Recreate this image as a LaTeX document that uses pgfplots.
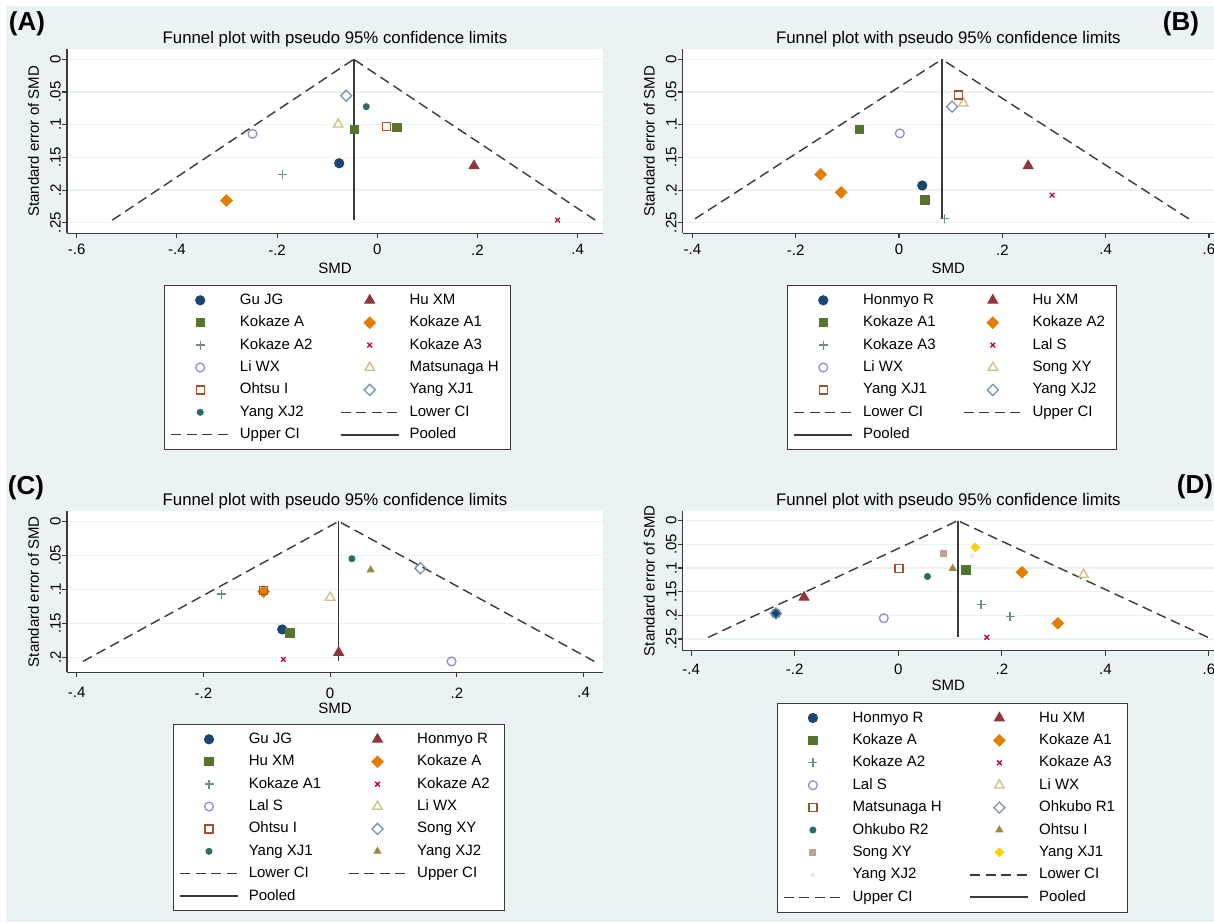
\documentclass[border=0pt]{standalone}
\usepackage{fontspec}
\setmainfont{Liberation Sans}
\usepackage{pgfplots}
\pgfplotsset{compat=1.18}

% Stata s2color palette
\definecolor{s1}{HTML}{1A476F}
\definecolor{s2}{HTML}{90353B}
\definecolor{s3}{HTML}{55752F}
\definecolor{s4}{HTML}{E37E00}
\definecolor{s5}{HTML}{6E8E84}
\definecolor{s6}{HTML}{C10534}
\definecolor{s7}{HTML}{938DD2}
\definecolor{s8}{HTML}{CAC27E}
\definecolor{s9}{HTML}{A0522D}
\definecolor{s10}{HTML}{7B92A8}
\definecolor{s11}{HTML}{2D6D66}
\definecolor{s12}{HTML}{9C8847}
\definecolor{s13}{HTML}{BFA19C}
\definecolor{s14}{HTML}{FFD200}
\definecolor{s15}{HTML}{D9E6EB}
\definecolor{sbg}{HTML}{EAF2F3}
\definecolor{saxis}{HTML}{3A3A3A}

\newlength\wa \newlength\wb
\newcommand\La[1]{\makebox[\wa][l]{#1}}
\newcommand\Lb[1]{\makebox[\wb][l]{#1}}

\pgfplotsset{
  p1/.style={only marks, color=s1, mark=*, mark size=4.6pt, mark options={line width=1pt}},
  p2/.style={only marks, color=s2, mark=triangle*, mark size=5.6pt, mark options={line width=1pt}},
  p3/.style={only marks, color=s3, mark=square*, mark size=4.2pt, mark options={line width=1pt}},
  p4/.style={only marks, color=s4, mark=square*, mark size=4pt, mark options={rotate=45, line width=1pt}},
  p5/.style={only marks, color=s5, mark=+, mark size=4.5pt, mark options={line width=1.3pt}},
  p6/.style={only marks, color=s6, mark=x, mark size=3.3pt, mark options={line width=1.3pt}},
  p7/.style={only marks, color=s7, mark=o, mark size=4.4pt, mark options={line width=1.3pt}},
  p8/.style={only marks, color=s8, mark=triangle, mark size=5.4pt, mark options={line width=1.3pt}},
  p9/.style={only marks, color=s9, mark=square, mark size=4pt, mark options={line width=1.3pt}},
  p10/.style={only marks, color=s10, mark=square, mark size=3.9pt, mark options={rotate=45, line width=1.3pt}},
  p11/.style={only marks, color=s11, mark=*, mark size=3pt, mark options={line width=1pt}},
  p12/.style={only marks, color=s12, mark=triangle*, mark size=3.8pt, mark options={line width=1pt}},
  p13/.style={only marks, color=s13, mark=square*, mark size=2.9pt, mark options={line width=1pt}},
  p14/.style={only marks, color=s14, mark=square*, mark size=2.9pt, mark options={rotate=45, line width=1pt}},
  p15/.style={only marks, color=s15, mark=x, mark size=2.6pt, mark options={line width=1.2pt}},
  ci/.style={color=saxis, line width=1.4pt, dash pattern=on 10pt off 5.5pt, no marks},
  pool/.style={color=saxis, line width=1.6pt, solid, no marks},
  funnel/.style={
    scale only axis, anchor=south west, y dir=reverse,
    axis x line*=bottom, axis y line*=left,
    axis line style={draw=saxis, line width=1.1pt},
    every tick/.style={draw=saxis, line width=1.1pt},
    tick align=outside, major tick length=5pt,
    ymajorgrids, major grid style={draw=sbg, line width=1.3pt},
    axis background/.style={fill=white},
    font=\fontsize{15}{18}\selectfont,
    title={Funnel plot with pseudo 95\% confidence limits},
    title style={font=\fontsize{16.8}{20}\selectfont, at={(axis description cs:0.5,1)}, anchor=base, inner sep=0pt, yshift=-0.5pt},
    xlabel={SMD}, ylabel={Standard error of SMD},
    xticklabel style={inner sep=0pt, anchor=center},
    yticklabel style={rotate=90, anchor=south, inner xsep=0pt, inner ysep=1pt},
    legend columns=2,
    legend style={draw=saxis, line width=1pt, fill=white, inner xsep=6pt, inner ysep=7.8pt,
      row sep=8.4pt, column sep=0pt, anchor=north west, font=\fontsize{15}{18}\selectfont,
      nodes={inner sep=0pt, text height=11pt, text depth=3pt}},
    legend image code/.code={\path (0pt,-5pt) (68pt,5pt);
      \draw[mark indices={2},##1] plot coordinates {(0pt,0pt) (29pt,0pt) (58pt,0pt)};},
  },
}

\begin{document}
\begin{tikzpicture}
\path[use as bounding box] (0pt,0pt) rectangle (1214pt,922pt);
\clip (0pt,0pt) rectangle (1214pt,922pt);
\fill[white] (0pt,0pt) rectangle (1214pt,922pt);
\fill[sbg] (6pt,0pt) rectangle (1214pt,916pt);

% ---------- (A)
\setlength\wa{100pt}\setlength\wb{95pt}
\begin{axis}[funnel, at={(67pt,688.67pt)}, width=536pt, height=184pt,
  xmin=-0.6192, xmax=0.4505, ymin=-0.0153, ymax=0.2662,
  xtick={-0.6,-0.4,-0.2,0,0.2,0.4}, xticklabels={-.6,-.4,-.2,0,.2,.4},
  ytick={0,0.05,0.1,0.15,0.2,0.25}, yticklabels={0,.05,.1,.15,.2,.25},
  xticklabel style={yshift=-11.5pt},
  xlabel style={at={(axis description cs:0.5,0)}, anchor=center, inner sep=0pt, yshift=-35pt},
  ylabel style={at={(axis description cs:-0.0625,0.5)}, anchor=center, inner sep=0pt},
  legend style={at={(axis description cs:0.181,-0.2808)}}]
\addplot[ci, forget plot] coordinates {(-0.529,0.246) (-0.047,0)};
\addplot[ci, forget plot] coordinates {(0.435,0.246) (-0.047,0)};
\addplot[pool, forget plot] coordinates {(-0.047,0) (-0.047,0.246)};
\addplot[p1] coordinates {(-0.076,0.159)}; \addlegendentry{\La{Gu JG}}
\addplot[p2] coordinates {(0.193,0.163)}; \addlegendentry{\Lb{Hu XM}}
\addplot[p3] coordinates {(-0.045,0.107) (0.039,0.104)}; \addlegendentry{\La{Kokaze A}}
\addplot[p4] coordinates {(-0.301,0.216)}; \addlegendentry{\Lb{Kokaze A1}}
\addplot[p5] coordinates {(-0.189,0.176)}; \addlegendentry{\La{Kokaze A2}}
\addplot[p6] coordinates {(0.360,0.246)}; \addlegendentry{\Lb{Kokaze A3}}
\addplot[p7] coordinates {(-0.249,0.114)}; \addlegendentry{\La{Li WX}}
\addplot[p8] coordinates {(-0.078,0.0995)}; \addlegendentry{\Lb{Matsunaga H}}
\addplot[p9] coordinates {(0.019,0.103)}; \addlegendentry{\La{Ohtsu I}}
\addplot[p10] coordinates {(-0.062,0.0556)}; \addlegendentry{\Lb{Yang XJ1}}
\addplot[p11] coordinates {(-0.022,0.0724)}; \addlegendentry{\La{Yang XJ2}}
\addlegendimage{ci} \addlegendentry{\Lb{Lower CI}}
\addlegendimage{ci} \addlegendentry{\La{Upper CI}}
\addlegendimage{pool} \addlegendentry{\Lb{Pooled}}
\end{axis}

% ---------- (B)
\setlength\wa{100pt}\setlength\wb{78pt}
\begin{axis}[funnel, at={(682.7pt,688.67pt)}, width=531.3pt, height=184pt,
  xmin=-0.4188, xmax=0.6098, ymin=-0.0153, ymax=0.2662,
  xtick={-0.4,-0.2,0,0.2,0.4,0.6}, xticklabels={-.4,-.2,0,.2,.4,.6},
  ytick={0,0.05,0.1,0.15,0.2,0.25}, yticklabels={0,.05,.1,.15,.2,.25},
  xticklabel style={yshift=-11.5pt},
  xlabel style={at={(axis description cs:0.5,0)}, anchor=center, inner sep=0pt, yshift=-35pt},
  ylabel style={at={(axis description cs:-0.0631,0.5)}, anchor=center, inner sep=0pt},
  legend style={at={(axis description cs:0.1963,-0.2808)}}]
\addplot[ci, forget plot] coordinates {(-0.395,0.244) (0.083,0)};
\addplot[ci, forget plot] coordinates {(0.561,0.244) (0.083,0)};
\addplot[pool, forget plot] coordinates {(0.083,0) (0.083,0.245)};
\addplot[p1] coordinates {(0.045,0.193)}; \addlegendentry{\La{Honmyo R}}
\addplot[p2] coordinates {(0.250,0.163)}; \addlegendentry{\Lb{Hu XM}}
\addplot[p3] coordinates {(-0.0765,0.107) (0.050,0.215)}; \addlegendentry{\La{Kokaze A1}}
\addplot[p4] coordinates {(-0.1516,0.176) (-0.112,0.2036)}; \addlegendentry{\Lb{Kokaze A2}}
\addplot[p5] coordinates {(0.0886,0.244)}; \addlegendentry{\La{Kokaze A3}}
\addplot[p6] coordinates {(0.2964,0.2077)}; \addlegendentry{\Lb{Lal S}}
\addplot[p7] coordinates {(0.0015,0.1133)}; \addlegendentry{\La{Li WX}}
\addplot[p8] coordinates {(0.1246,0.0673)}; \addlegendentry{\Lb{Song XY}}
\addplot[p9] coordinates {(0.1156,0.0546)}; \addlegendentry{\La{Yang XJ1}}
\addplot[p10] coordinates {(0.1028,0.0724)}; \addlegendentry{\Lb{Yang XJ2}}
\addlegendimage{ci} \addlegendentry{\La{Lower CI}}
\addlegendimage{ci} \addlegendentry{\Lb{Upper CI}}
\addlegendimage{pool} \addlegendentry{\La{Pooled}}
\end{axis}

% ---------- (C)
\setlength\wa{99pt}\setlength\wb{81pt}
\begin{axis}[funnel, at={(67pt,249.67pt)}, width=536pt, height=161.33pt,
  xmin=-0.4152, xmax=0.4306, ymin=-0.0152, ymax=0.2221,
  xtick={-0.4,-0.2,0,0.2,0.4}, xticklabels={-.4,-.2,0,.2,.4},
  ytick={0,0.05,0.1,0.15,0.2}, yticklabels={0,.05,.1,.15,.2},
  xticklabel style={yshift=-15.5pt},
  xlabel style={at={(axis description cs:0.5,0)}, anchor=center, inner sep=0pt, yshift=-36pt},
  ylabel style={at={(axis description cs:-0.0625,0.5)}, anchor=center, inner sep=0pt},
  legend style={at={(axis description cs:0.1972,-0.3203)}}]
\addplot[ci, forget plot] coordinates {(-0.390,0.206) (0.0135,0)};
\addplot[ci, forget plot] coordinates {(0.417,0.206) (0.0135,0)};
\addplot[pool, forget plot] coordinates {(0.0135,0) (0.0135,0.206)};
\addplot[p1] coordinates {(-0.0756,0.159)}; \addlegendentry{\La{Gu JG}}
\addplot[p2] coordinates {(0.0135,0.193)}; \addlegendentry{\Lb{Honmyo R}}
\addplot[p3] coordinates {(-0.063,0.164)}; \addlegendentry{\La{Hu XM}}
\addplot[p4] coordinates {(-0.105,0.1034)}; \addlegendentry{\Lb{Kokaze A}}
\addplot[p5] coordinates {(-0.171,0.107)}; \addlegendentry{\La{Kokaze A1}}
\addplot[p6] coordinates {(-0.0737,0.203)}; \addlegendentry{\Lb{Kokaze A2}}
\addplot[p7] coordinates {(0.1916,0.206)}; \addlegendentry{\La{Lal S}}
\addplot[p8] coordinates {(0.0,0.112)}; \addlegendentry{\Lb{Li WX}}
\addplot[p9] coordinates {(-0.105,0.102)}; \addlegendentry{\La{Ohtsu I}}
\addplot[p10] coordinates {(0.1425,0.069)}; \addlegendentry{\Lb{Song XY}}
\addplot[p11] coordinates {(0.0344,0.055)}; \addlegendentry{\La{Yang XJ1}}
\addplot[p12] coordinates {(0.0639,0.0716)}; \addlegendentry{\Lb{Yang XJ2}}
\addlegendimage{ci} \addlegendentry{\La{Lower CI}}
\addlegendimage{ci} \addlegendentry{\Lb{Upper CI}}
\addlegendimage{pool} \addlegendentry{\La{Pooled}}
\end{axis}

% ---------- (D)
\setlength\wa{117pt}\setlength\wb{82pt}
\begin{axis}[funnel, at={(682.7pt,271.33pt)}, width=531.3pt, height=140pt,
  xmin=-0.4164, xmax=0.6098, ymin=-0.0211, ymax=0.2747,
  xtick={-0.4,-0.2,0,0.2,0.4,0.6}, xticklabels={-.4,-.2,0,.2,.4,.6},
  ytick={0,0.05,0.1,0.15,0.2,0.25}, yticklabels={0,.05,.1,.15,.2,.25},
  xticklabel style={yshift=-14pt},
  xlabel style={at={(axis description cs:0.5,0)}, anchor=center, inner sep=0pt, yshift=-34.3pt},
  ylabel style={at={(axis description cs:-0.0631,0.5)}, anchor=center, inner sep=0pt},
  legend style={at={(axis description cs:0.1769,-0.3716)}}]
\addplot[ci, forget plot] coordinates {(-0.367,0.2465) (0.115,0)};
\addplot[ci, forget plot] coordinates {(0.598,0.2465) (0.115,0)};
\addplot[pool, forget plot] coordinates {(0.115,0) (0.115,0.2465)};
\addplot[p1] coordinates {(-0.2364,0.196)}; \addlegendentry{\La{Honmyo R}}
\addplot[p2] coordinates {(-0.182,0.162)}; \addlegendentry{\Lb{Hu XM}}
\addplot[p3] coordinates {(0.131,0.104)}; \addlegendentry{\La{Kokaze A}}
\addplot[p4] coordinates {(0.239,0.109) (0.308,0.217)}; \addlegendentry{\Lb{Kokaze A1}}
\addplot[p5] coordinates {(0.160,0.177) (0.216,0.203)}; \addlegendentry{\La{Kokaze A2}}
\addplot[p6] coordinates {(0.171,0.2465)}; \addlegendentry{\Lb{Kokaze A3}}
\addplot[p7] coordinates {(-0.028,0.206)}; \addlegendentry{\La{Lal S}}
\addplot[p8] coordinates {(0.358,0.114)}; \addlegendentry{\Lb{Li WX}}
\addplot[p9] coordinates {(0.0015,0.1007)}; \addlegendentry{\La{Matsunaga H}}
\addplot[p10] coordinates {(-0.2364,0.196)}; \addlegendentry{\Lb{Ohkubo R1}}
\addplot[p11] coordinates {(0.0563,0.118)}; \addlegendentry{\La{Ohkubo R2}}
\addplot[p12] coordinates {(0.105,0.101)}; \addlegendentry{\Lb{Ohtsu I}}
\addplot[p13] coordinates {(0.0878,0.069)}; \addlegendentry{\La{Song XY}}
\addplot[p14] coordinates {(0.1486,0.0563)}; \addlegendentry{\Lb{Yang XJ1}}
\addplot[p15] coordinates {(0.1426,0.074)}; \addlegendentry{\La{Yang XJ2}}
\addlegendimage{ci} \addlegendentry{\Lb{Lower CI}}
\addlegendimage{ci} \addlegendentry{\La{Upper CI}}
\addlegendimage{pool} \addlegendentry{\Lb{Pooled}}
\end{axis}

\node[font=\bfseries\fontsize{26}{30}\selectfont] at (27pt,898pt) {(A)};
\node[font=\bfseries\fontsize{26}{30}\selectfont] at (1181pt,898pt) {(B)};
\node[font=\bfseries\fontsize{26}{30}\selectfont] at (26pt,434pt) {(C)};
\node[font=\bfseries\fontsize{26}{30}\selectfont] at (1195pt,435pt) {(D)};
\end{tikzpicture}
\end{document}
